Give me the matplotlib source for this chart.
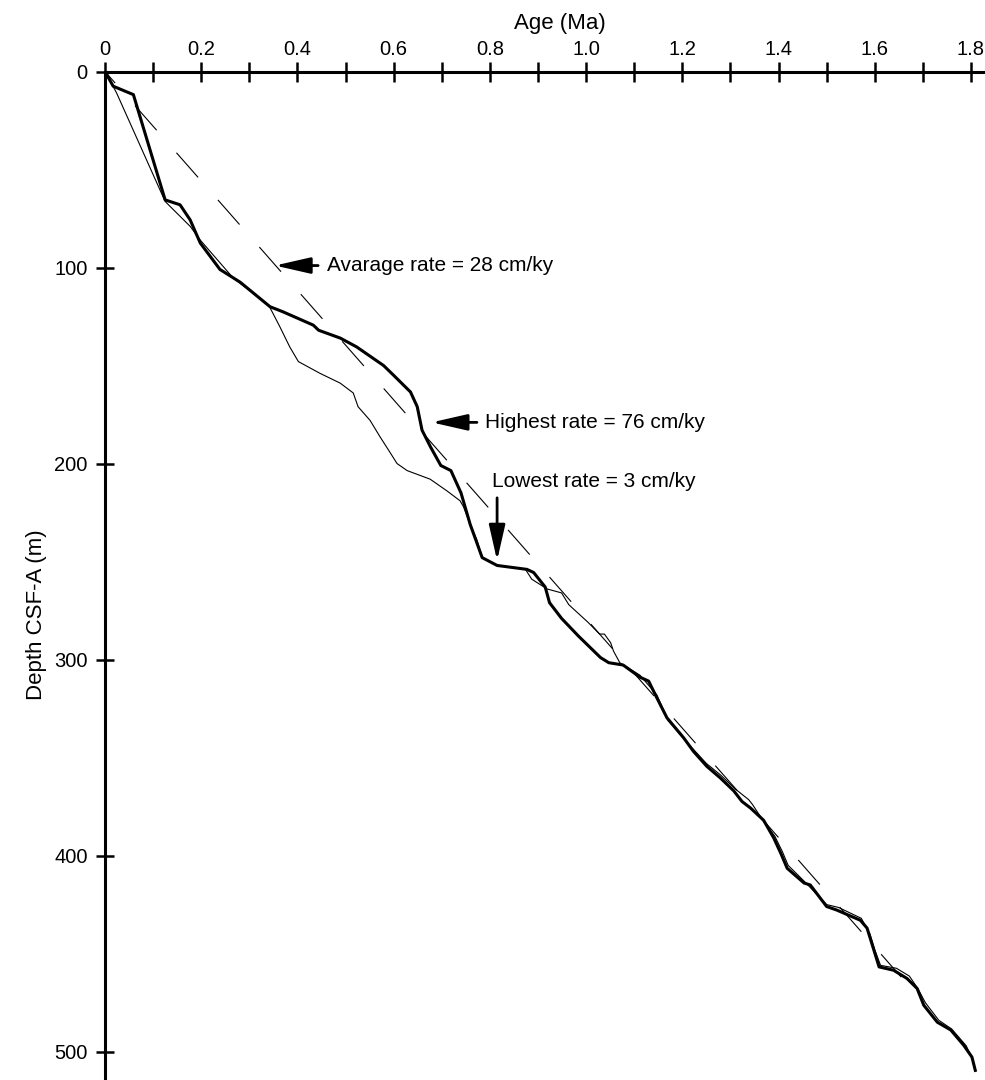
import matplotlib
matplotlib.use("Agg")
import matplotlib.pyplot as plt
from matplotlib.ticker import MultipleLocator, FuncFormatter

plt.rcParams["font.family"] = ["Liberation Sans", "DejaVu Sans"]
plt.rcParams["lines.scale_dashes"] = False

# age model (thick line)
model_age = [0, 0.017, 0.059, 0.125, 0.156, 0.177, 0.198, 0.239, 0.281, 0.343,
             0.370, 0.433, 0.444, 0.489, 0.523, 0.579, 0.600, 0.635, 0.649, 0.659,
             0.677, 0.698, 0.719, 0.740, 0.759, 0.784, 0.815, 0.877, 0.891, 0.915,
             0.924, 0.949, 0.984, 1.030, 1.047, 1.077, 1.112, 1.130, 1.147, 1.168,
             1.203, 1.223, 1.251, 1.279, 1.307, 1.324, 1.342, 1.369, 1.390, 1.405,
             1.418, 1.453, 1.466, 1.500, 1.521, 1.570, 1.584, 1.595, 1.609, 1.639,
             1.667, 1.688, 1.702, 1.730, 1.758, 1.785, 1.802, 1.809]
model_depth = [0, 7.5, 11.8, 65.5, 68, 75.7, 87.5, 101, 107.5, 120,
               122.6, 129.4, 132, 136, 140.5, 150, 155, 163.5, 171, 183,
               191.7, 201, 203.6, 215, 231, 248, 252, 254, 255.6, 263,
               271, 279, 288, 299, 301.6, 302.8, 309, 311, 319.5, 329.7,
               340, 346.8, 354.5, 360.4, 367, 372.4, 375.8, 382, 391, 399,
               406.5, 414, 415, 426, 427.8, 433, 437, 445.7, 456.8, 458.5,
               462.7, 467.8, 476.4, 485, 489, 496.8, 502.8, 509.6]

# alternative age-depth curve (thin line)
alt_age = [0, 0.024, 0.125, 0.177, 0.198, 0.267, 0.336, 0.343, 0.363, 0.384,
           0.402, 0.447, 0.489, 0.516, 0.526, 0.551, 0.572, 0.589, 0.607, 0.628,
           0.676, 0.711, 0.738, 0.745, 0.756, 0.773, 0.784, 0.815, 0.874, 0.887,
           0.919, 0.949, 0.964, 1.004, 1.028, 1.038, 1.051, 1.057, 1.070, 1.112,
           1.147, 1.170, 1.205, 1.250, 1.280, 1.310, 1.338, 1.346, 1.370, 1.392,
           1.408, 1.420, 1.455, 1.500, 1.525, 1.572, 1.590, 1.600, 1.612, 1.645,
           1.672, 1.690, 1.705, 1.733, 1.760, 1.790, 1.805]
alt_depth = [0, 10.9, 66.3, 79, 86, 105.5, 118.3, 120.5, 130, 140.5,
             148, 154, 159, 164, 171, 178, 186.5, 193, 200, 203.6,
             208, 214, 219, 222, 229, 239, 248, 252, 254, 259,
             264, 266, 272, 281, 287, 287, 291.4, 295.7, 301.6, 308,
             318, 331, 341, 353, 359, 366, 371.5, 374, 383, 390,
             398, 405, 413.5, 425, 426.5, 432, 440, 448, 456, 457.5,
             461.5, 468, 475, 484, 488.5, 497, 505]

# average rate line (28 cm/ky)
avg_age = [0, 1.655]
avg_depth = [0, 462]

fig, ax = plt.subplots(figsize=(9.85, 10.8), dpi=100)
fig.subplots_adjust(left=0.1066, right=0.1066 + 878 / 985, top=1 - 71.5 / 1080, bottom=0)

ax.plot(avg_age, avg_depth, c="black", lw=0.8, linestyle=(12.5, (23.6, 21.6)))
ax.plot(alt_age, alt_depth, c="black", lw=0.8)
ax.plot(model_age, model_depth, c="black", lw=2.2)

ax.set_xlim(0, 1.825)
ax.set_ylim(514.5, 0)

ax.spines["right"].set_visible(False)
ax.spines["bottom"].set_visible(False)
ax.spines["top"].set_linewidth(2.2)
ax.spines["left"].set_linewidth(2.2)

ax.xaxis.tick_top()
ax.xaxis.set_major_locator(MultipleLocator(0.2))
ax.xaxis.set_minor_locator(MultipleLocator(0.1))
ax.xaxis.set_major_formatter(FuncFormatter(lambda v, p: "0" if abs(v) < 1e-9 else f"{v:.1f}"))
ax.yaxis.set_major_locator(MultipleLocator(100))

ax.tick_params(axis="x", which="both", direction="inout", length=14.4, width=1.8, pad=1.5, labelsize=14.5)
ax.tick_params(axis="y", direction="inout", length=13, width=1.8, pad=6, labelsize=14.5)

fig.text(560 / 985, 1 - 23 / 1080, "Age (Ma)", ha="center", va="center", fontsize=16)
fig.text(37 / 985, 1 - 615 / 1080, "Depth CSF-A (m)", ha="center", va="center", rotation=90, fontsize=16)

arrow = dict(arrowstyle="-|>,head_length=1.45,head_width=0.33", color="black", lw=2.0,
             shrinkA=0, shrinkB=0, mutation_scale=15)

ax.annotate("", xy=(0.353, 99), xytext=(0.443, 99), arrowprops=arrow)
ax.text(0.462, 99, "Avarage rate = 28 cm/ky", ha="left", va="center", fontsize=15)

ax.annotate("", xy=(0.679, 179), xytext=(0.773, 179), arrowprops=arrow)
ax.text(0.790, 179, "Highest rate = 76 cm/ky", ha="left", va="center", fontsize=15)

ax.annotate("", xy=(0.815, 249.5), xytext=(0.815, 217.5), arrowprops=arrow)
ax.text(0.804, 209.3, "Lowest rate = 3 cm/ky", ha="left", va="center", fontsize=15)

fig.savefig("out.png", dpi=100)
